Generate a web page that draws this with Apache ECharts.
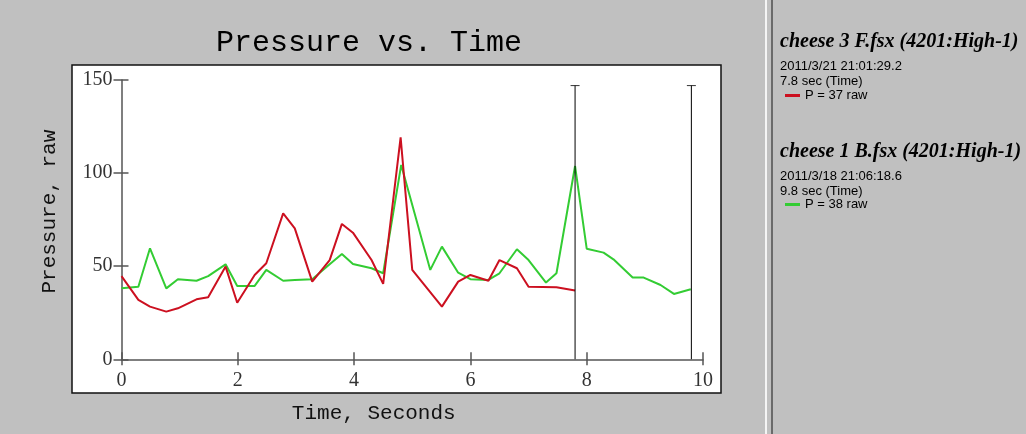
<!DOCTYPE html>
<html>
<head>
<meta charset="utf-8">
<script src="https://cdn.jsdelivr.net/npm/echarts@6/dist/echarts.min.js"></script>
<style>
html, body { margin: 0; padding: 0; background: #c0c0c0; }
#main { width: 1026px; height: 434px; }
</style>
</head>
<body>
<div id="main"></div>
<script>
// time (s) / pressure (raw)
var redTime = [0, 0.29, 0.49, 0.77, 0.97, 1.29, 1.49, 1.79, 1.99, 2.29, 2.49, 2.78, 2.98, 3.28, 3.58, 3.79, 3.98, 4.30, 4.50, 4.80, 5.0, 5.51, 5.79, 6.0, 6.31, 6.50, 6.80, 7.0, 7.48, 7.80];
var redVals = [44.7, 31.9, 28.3, 25.6, 27.4, 32.2, 33.3, 49.8, 30.4, 45.3, 51.6, 78.4, 70.3, 41.7, 53.3, 72.7, 68, 53.3, 40.5, 119.2, 48, 28.3, 41.7, 45.3, 42.2, 53.3, 48.9, 39, 38.7, 36.9];

var greenTime = [0, 0.29, 0.49, 0.77, 0.97, 1.29, 1.49, 1.79, 1.99, 2.29, 2.49, 2.78, 2.98, 3.28, 3.58, 3.79, 3.98, 4.30, 4.50, 4.81, 5.31, 5.51, 5.79, 6.0, 6.31, 6.50, 6.80, 7.0, 7.30, 7.48, 7.80, 8.0, 8.29, 8.46, 8.79, 8.98, 9.27, 9.50, 9.79];
var greenVals = [38.1, 39, 59.6, 38.1, 43, 42.2, 44.7, 51, 39.4, 39.4, 48, 42.2, 42.6, 43, 51, 56.6, 51.2, 48.9, 46.2, 104.4, 48, 60.5, 46.5, 43, 42.6, 46.2, 59.1, 53.3, 41.2, 46.2, 103.8, 59.4, 57.3, 53.7, 43.9, 43.9, 39.9, 35.1, 37.6];

var cursorTimes = [7.8, 9.8];
var cursorTop = 147;

var seriesNames = ['P = 37 raw', 'P = 38 raw'];
var fileNames = ['cheese 3 F.fsx (4201:High-1)', 'cheese 1 B.fsx (4201:High-1)'];
var fileStamps = ['2011/3/21 21:01:29.2', '2011/3/18 21:06:18.6'];
var fileDurations = ['7.8 sec (Time)', '9.8 sec (Time)'];

function pairs(xs, ys) {
    var out = [];
    for (var i = 0; i < xs.length; i++) out.push([xs[i], ys[i]]);
    return out;
}

var chart = echarts.init(document.getElementById('main'));

var axisColor = '#555';
var tickFont = { fontFamily: 'Liberation Serif', fontSize: 20, color: '#333' };
var nameFont = { fontFamily: 'Liberation Mono', fontSize: 21, color: '#111' };

var series = [
    {
        name: seriesNames[0], type: 'line', data: pairs(redTime, redVals),
        symbol: 'none', color: '#cc1020', lineStyle: { width: 2 }, z: 3
    },
    {
        name: seriesNames[1], type: 'line', data: pairs(greenTime, greenVals),
        symbol: 'none', color: '#33cc33', lineStyle: { width: 2 }, z: 2
    }
];
cursorTimes.forEach(function (t) {
    series.push({
        type: 'line', data: [[t, 0], [t, cursorTop]], symbol: 'none',
        color: '#000', lineStyle: { width: 1 }, silent: true, z: 4
    });
    series.push({
        type: 'scatter', data: [[t, cursorTop]], symbol: 'rect', symbolSize: [9, 1],
        color: '#000', silent: true, z: 4
    });
});

var graphic = [
    { type: 'rect', shape: { x: 72, y: 65, width: 649, height: 328 },
      style: { fill: '#fff', stroke: '#111', lineWidth: 1.5 }, z: -10 },
    { type: 'rect', shape: { x: 765, y: 0, width: 2, height: 434 }, style: { fill: '#f4f4f4' }, z: -10 },
    { type: 'rect', shape: { x: 771, y: 0, width: 2, height: 434 }, style: { fill: '#6a6a6a' }, z: -10 }
];
var blockTop = [43, 153];
for (var i = 0; i < 2; i++) {
    graphic.push({ type: 'text', left: 780, top: blockTop[i] - 11,
        style: { text: fileNames[i], font: 'italic bold 20px "Liberation Serif"', fill: '#000' } });
    graphic.push({ type: 'text', left: 780, top: blockTop[i] + 17,
        style: { text: fileStamps[i], font: '13px "Liberation Sans"', fill: '#000' } });
    graphic.push({ type: 'text', left: 780, top: blockTop[i] + 32,
        style: { text: fileDurations[i], font: '13px "Liberation Sans"', fill: '#000' } });
}

var option = {
    backgroundColor: '#c0c0c0',
    animation: false,
    title: {
        text: 'Pressure vs. Time', left: 369, textAlign: 'center', top: 28, padding: 0,
        textStyle: { fontFamily: 'Liberation Mono', fontSize: 30, fontWeight: 'normal', color: '#000' }
    },
    legend: [
        { data: [seriesNames[0]], left: 785, top: 89, padding: 0, icon: 'rect', itemWidth: 15, itemHeight: 3,
          itemGap: 4, textStyle: { fontFamily: 'Liberation Sans', fontSize: 13, color: '#000' } },
        { data: [seriesNames[1]], left: 785, top: 198, padding: 0, icon: 'rect', itemWidth: 15, itemHeight: 3,
          itemGap: 4, textStyle: { fontFamily: 'Liberation Sans', fontSize: 13, color: '#000' } }
    ],
    grid: { left: 121.5, right: 323, top: 80, bottom: 74.7 },
    xAxis: [
        {
            type: 'value', min: 0, max: 10, interval: 2,
            name: 'Time, Seconds', nameLocation: 'middle', nameGap: 44,
            nameTextStyle: Object.assign({ padding: [0, 77, 0, 0] }, nameFont),
            axisLine: { lineStyle: { color: axisColor, width: 1.5 } },
            axisTick: { length: 6, lineStyle: { color: axisColor, width: 1.5 } },
            axisLabel: Object.assign({ margin: 11 }, tickFont),
            splitLine: { show: false }
        },
        {
            type: 'value', min: 0, max: 10, interval: 2, position: 'bottom',
            axisLine: { show: false },
            axisTick: { inside: true, length: 7, lineStyle: { color: axisColor, width: 1.5 } },
            axisLabel: { show: false }, splitLine: { show: false }
        }
    ],
    yAxis: [
        {
            type: 'value', min: 0, max: 150, interval: 50,
            name: 'Pressure, raw', nameLocation: 'middle', nameGap: 62,
            nameTextStyle: Object.assign({ padding: [0, 0, 0, 16] }, nameFont),
            axisLine: { show: true, lineStyle: { color: axisColor, width: 1.5 } },
            axisTick: { show: true, length: 8, lineStyle: { color: axisColor, width: 1.5 } },
            axisLabel: Object.assign({ margin: 9 }, tickFont),
            splitLine: { show: false }
        },
        {
            type: 'value', min: 0, max: 150, interval: 50, position: 'left',
            axisLine: { show: false },
            axisTick: { show: true, inside: true, length: 7, lineStyle: { color: axisColor, width: 1.5 } },
            axisLabel: { show: false }, splitLine: { show: false }
        }
    ],
    graphic: graphic,
    series: series
};

chart.setOption(option);
</script>
</body>
</html>
